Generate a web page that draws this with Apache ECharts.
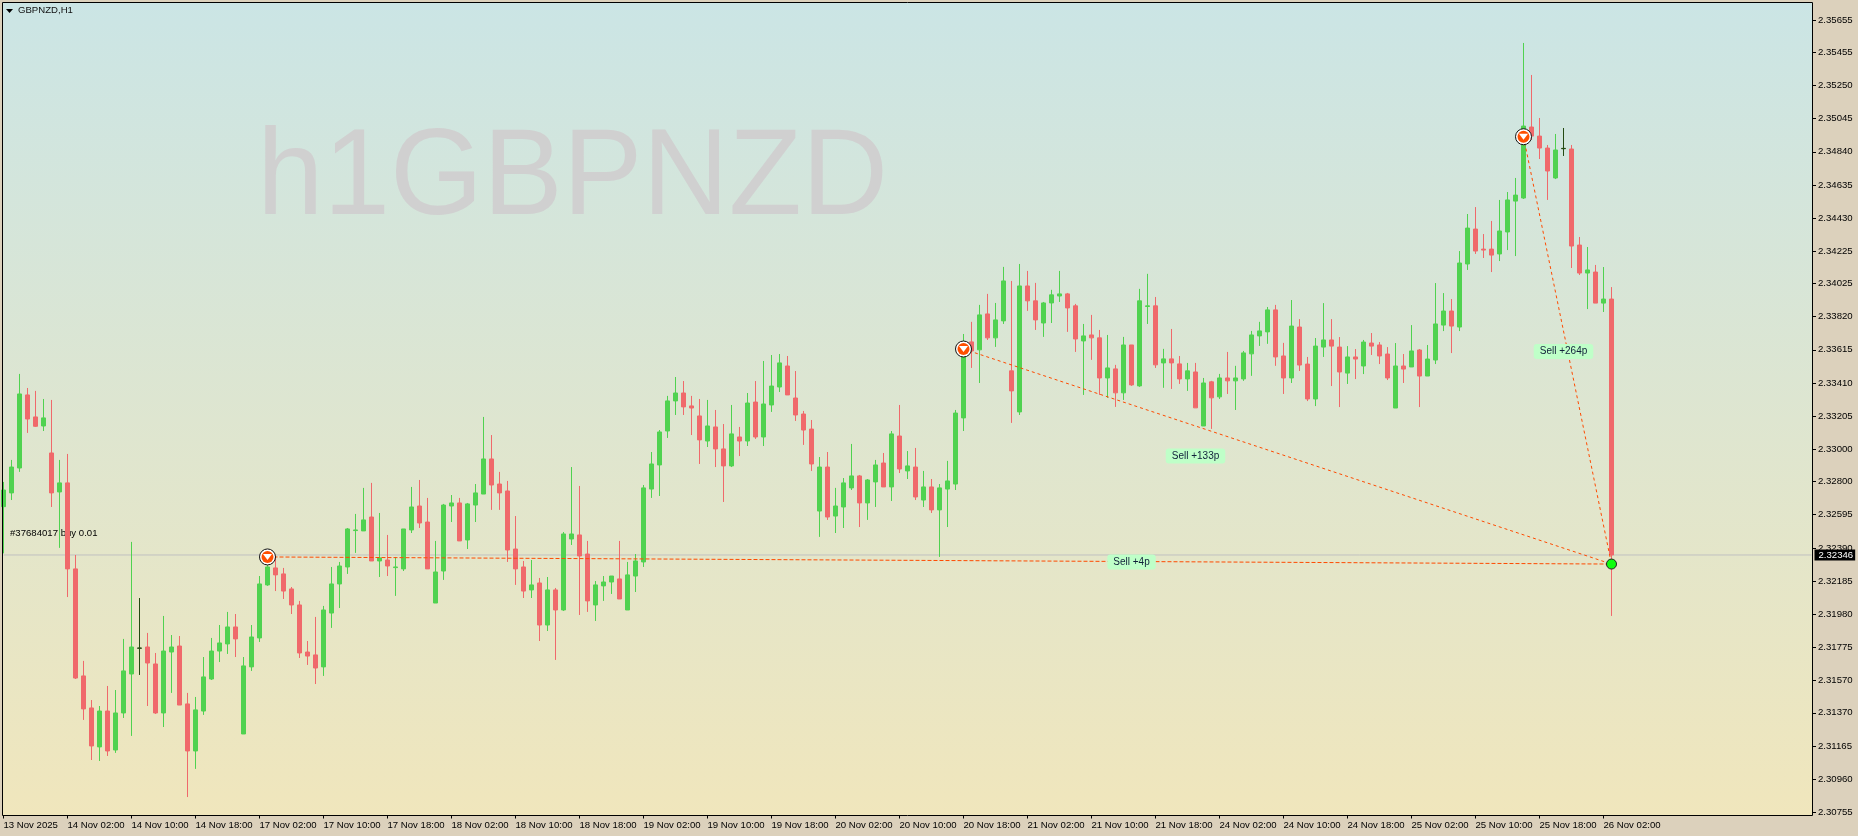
<!DOCTYPE html>
<html>
<head>
<meta charset="utf-8">
<title>GBPNZD,H1</title>
<style>
  html, body { margin: 0; padding: 0; background: #dcd1bc; }
  #chart { width: 1858px; height: 836px; }
</style>
<script src="https://cdn.jsdelivr.net/npm/echarts@6/dist/echarts.min.js"></script>
</head>
<body>
<div id="chart"></div>
<script>
// Prices are kept in points (1 point = 0.00001)
const opens = [
  232645,232730,232884,233336,233200,233144,232977,232736,232792,232260,
  231598,231400,231159,231381,231140,231369,231610,231769,231777,231672,
  231369,231746,231783,231425,231134,231381,231579,231752,231796,231901,
  231239,231654,231833,232161,232266,232229,232136,232037,231746,231728,
  231654,231987,232167,232272,232497,232495,232581,232309,232315,232268,
  232260,232501,232649,232550,232049,232247,232649,232668,232439,232655,
  232723,232940,232785,232742,232383,232272,232130,232173,231913,232130,
  232006,232445,232470,232352,232037,232155,232179,232198,232006,232216,
  232303,232754,232903,233113,233299,233348,233268,233206,233051,233138,
  233002,232897,233076,233051,233292,233076,233274,233385,233515,233317,
  233218,233125,232618,232890,232587,232643,232761,232835,232668,232798,
  232915,232767,233082,232866,232890,232686,232767,232625,232754,232785,
  233194,233664,233615,233837,233689,233794,233485,233231,234010,233918,
  233781,233905,233948,233961,233887,233670,233707,233689,233441,233497,
  233349,233645,233392,233883,233887,233534,233559,233528,233435,233478,
  233144,233417,233324,233441,233423,233435,233590,233701,233726,233862,
  233577,233441,233756,233527,233311,233632,233676,233632,233471,233571,
  233515,233657,233645,233589,233255,233515,233509,233614,233453,233552,
  233768,233855,233756,234146,234362,234238,234238,234208,234344,234535,
  234554,234993,234937,234863,234678,234859,234857,234263,234090,234096,
  233904,233929
];
const closes = [
  232748,232890,233342,233187,233142,233194,232730,232792,232260,231585,
  231394,231165,231381,231134,231369,231629,231777,231771,231678,231369,
  231752,231777,231418,231134,231388,231592,231752,231802,231901,231827,
  231660,231839,232167,232272,232223,232123,232037,231740,231721,231647,
  232006,232167,232278,232507,232501,232563,232309,232328,232278,232272,
  232507,232643,232544,232260,232241,232655,232668,232433,232662,232730,
  232940,232779,232730,232377,232260,232123,232161,231913,232130,232006,
  232476,232476,232340,232062,232161,232179,232216,232074,232223,232309,
  232761,232909,233107,233299,233348,233262,233255,233058,233144,233002,
  232897,233095,233051,233286,233076,233280,233391,233534,233336,233212,
  233119,232909,232890,232581,232649,232792,232835,232668,232810,232903,
  232767,233095,232878,232897,232705,232767,232625,232761,232804,233224,
  233645,233608,233831,233689,233800,234041,233361,234010,233918,233800,
  233905,233955,233961,233874,233682,233701,233689,233441,233503,233349,
  233645,233398,233918,233887,233522,233559,233534,233435,233485,233256,
  233410,233318,233441,233423,233441,233596,233707,233732,233862,233571,
  233441,233762,233521,233311,233638,233676,233638,233478,233571,233558,
  233663,233638,233577,233441,233515,233496,233608,233453,233558,233775,
  233855,233762,234152,234368,234226,234232,234201,234350,234542,234572,
  234999,234937,234863,234721,234851,234861,234257,234090,234109,233904,
  233929,232346
];
const highs = [
  232798,232934,233466,233379,233361,233311,233305,232934,232971,232346,
  231691,231449,231412,231536,231511,231827,232427,232080,231864,231740,
  231969,231851,231845,231493,231468,231715,231833,231913,231994,231981,
  231715,231913,232216,232315,232340,232266,232148,232062,231814,231963,
  232031,232272,232303,232513,232600,232761,232792,232606,232470,232334,
  232507,232767,232810,232699,232433,232662,232717,232699,232668,232785,
  233200,233088,232860,232804,232587,232309,232315,232204,232210,232142,
  232488,232890,232773,232433,232185,232216,232216,232433,232303,232352,
  232779,232983,233119,233330,233447,233422,233330,233311,233305,233243,
  233156,233274,233138,233348,233422,233546,233583,233589,233577,233484,
  233237,233181,232952,232983,232761,232822,233033,232841,232816,232934,
  232977,233113,233274,232989,233008,232866,232816,232785,232928,233243,
  233713,233788,233893,233961,233905,234128,234041,234146,234103,234029,
  233911,233986,234103,233967,233899,233775,233831,233738,233707,233522,
  233695,233645,233992,234085,233942,233621,233744,233577,233534,233534,
  233441,233423,233466,233602,233516,233608,233732,233788,233880,233893,
  233658,233923,233805,233571,233688,233904,233805,233694,233638,233620,
  233676,233719,233663,233632,233657,233589,233768,233620,233645,234028,
  233966,233929,234226,234455,234498,234331,234412,234542,234591,234678,
  235513,235315,235049,234882,234950,234987,234882,234313,234251,234140,
  234127,234003
];
const lows = [
  232356,232686,232860,233101,233138,233113,232643,232390,232086,231579,
  231326,231078,231072,231103,231122,231338,231227,231604,231412,231363,
  231282,231493,231418,230849,231023,231357,231573,231684,231734,231715,
  231239,231629,231808,232155,232123,232074,231981,231709,231666,231548,
  231598,231895,232018,232229,232359,232495,232309,232210,232216,232093,
  232247,232482,232513,232260,232049,232192,232550,232433,232383,232550,
  232723,232625,232625,232303,232161,232080,232080,231814,231876,231697,
  232000,232408,231975,231994,231938,232062,232105,232074,232006,232117,
  232272,232699,232711,233070,233212,233212,233088,232909,233014,232890,
  232674,232890,232958,233020,233064,233020,233231,233354,233336,233175,
  233027,232866,232458,232563,232482,232513,232748,232519,232563,232643,
  232767,232680,232853,232816,232686,232643,232606,232334,232519,232748,
  233113,233503,233410,233676,233633,233775,233163,233212,233856,233738,
  233695,233781,233911,233726,233602,233336,233553,233336,233318,233262,
  233305,233392,233386,233775,233503,233380,233373,233404,233361,233256,
  233144,233126,233311,233342,233243,233423,233454,233639,233652,233516,
  233342,233410,233484,233298,233267,233571,233391,233261,233404,233434,
  233465,233583,233527,233428,233255,233410,233509,233261,233453,233527,
  233731,233595,233731,234109,234208,234183,234096,234164,234232,234195,
  234548,234913,234795,234542,234671,234814,234121,234078,233867,233904,
  233849,231969
];
// Bars drawn in the dark doji colour
const darkBars = [17, 195];

const timeLabels = [
  "13 Nov 2025","14 Nov 02:00","14 Nov 10:00","14 Nov 18:00","17 Nov 02:00","17 Nov 10:00",
  "17 Nov 18:00","18 Nov 02:00","18 Nov 10:00","18 Nov 18:00","19 Nov 02:00","19 Nov 10:00",
  "19 Nov 18:00","20 Nov 02:00","20 Nov 10:00","20 Nov 18:00","21 Nov 02:00","21 Nov 10:00",
  "21 Nov 18:00","24 Nov 02:00","24 Nov 10:00","24 Nov 18:00","25 Nov 02:00","25 Nov 10:00",
  "25 Nov 18:00","26 Nov 02:00"
];
const priceTicks = [
  2.35655,2.35455,2.35250,2.35045,2.34840,2.34635,2.34430,2.34225,2.34025,2.33820,2.33615,2.33410,
  2.33205,2.33000,2.32800,2.32595,2.32390,2.32185,2.31980,2.31775,2.31570,2.31370,2.31165,2.30960,2.30755
];
const lastPrice = 2.32346;

// Closed sells: [bar index, price], all closed at the green dot
const sellEntries = [[33, 2.32334], [120, 2.33620], [190, 2.34933]];
const closePoint = [201, 2.32290];
const tradeLabels = [
  { text: "Sell +4p", bar: 141, price: 2.32303 },
  { text: "Sell +133p", bar: 149, price: 2.32958 },
  { text: "Sell +264p", bar: 195, price: 2.33605 }
];
const orderLabel = { text: "#37684017 buy 0.01", bar: 1, price: 2.32477 };

const UI_FONT = "'Liberation Sans', Arial, sans-serif";
const GREEN = "#50d250";
const RED = "#f0696b";
const DARK = "#244a12";
const TOTAL_SLOTS = 227; // empty space right of the last bar

const categories = [];
for (let i = 0; i < TOTAL_SLOTS; i++) {
  categories.push(i % 8 === 0 && timeLabels[i / 8] ? timeLabels[i / 8] : "");
}

const candles = opens.map((o, i) => {
  const item = { value: [o / 1e5, closes[i] / 1e5, lows[i] / 1e5, highs[i] / 1e5] };
  if (darkBars.includes(i)) {
    item.itemStyle = { color: DARK, color0: DARK, borderColor: DARK, borderColor0: DARK };
  }
  return item;
});

const isLabelledTick = (index) => index % 8 === 0 && index <= 200;

const chart = echarts.init(document.getElementById("chart"), null, { renderer: "canvas" });

chart.setOption({
  animation: false,
  backgroundColor: "#dcd1bc",
  textStyle: { fontFamily: UI_FONT },
  // left 3.5 puts the bar centres on half pixels so wicks stay 1px and centred
  grid: { left: 3.5, top: 2, width: 1808, height: 813.5 },
  xAxis: {
    type: "category",
    data: categories,
    boundaryGap: false,
    axisLine: { show: false },
    axisTick: { show: true, length: 3, interval: isLabelledTick, alignWithLabel: true, lineStyle: { color: "#000" } },
    axisLabel: {
      show: true,
      interval: isLabelledTick,
      align: "left",
      margin: 5,
      color: "#000",
      fontSize: 9.6,
      fontFamily: UI_FONT,
      showMinLabel: true,
      hideOverlap: false
    },
    splitLine: { show: false }
  },
  yAxis: {
    type: "value",
    position: "right",
    offset: 1.5,
    min: 2.307348,
    max: 2.357663,
    scale: true,
    axisLine: { show: false },
    axisTick: { show: true, length: 3, customValues: priceTicks, lineStyle: { color: "#000" } },
    axisLabel: {
      show: true,
      customValues: priceTicks,
      margin: 5,
      color: "#000",
      fontSize: 9.6,
      fontFamily: UI_FONT,
      formatter: (v) => v.toFixed(5)
    },
    splitLine: { show: false }
  },
  series: [
    {
      // the order text sits behind the candles
      type: "scatter",
      z: 1,
      silent: true,
      symbolSize: 1,
      itemStyle: { color: "rgba(0,0,0,0)", opacity: 1 },
      data: [[orderLabel.bar, orderLabel.price]],
      label: {
        show: true,
        position: "right",
        distance: -2,
        formatter: orderLabel.text,
        color: "#000",
        fontSize: 9.6,
        fontFamily: UI_FONT
      }
    },
    {
      // last price line with its black tag on the price scale
      type: "line",
      z: 1,
      silent: true,
      showSymbol: false,
      clip: false,
      data: [[0, lastPrice], [TOTAL_SLOTS - 1, lastPrice]],
      lineStyle: { color: "#c0c0c0", width: 1 },
      endLabel: {
        show: true,
        formatter: () => lastPrice.toFixed(5),
        color: "#fff",
        backgroundColor: "#000",
        padding: [1, 2, 0, 4],
        distance: 3,
        fontSize: 9.6,
        fontFamily: UI_FONT
      }
    },
    {
      // barWidth 4 plus the 1px border gives the 5px bodies of the reference
      type: "candlestick",
      z: 2,
      barWidth: 4,
      silent: true,
      itemStyle: { color: GREEN, color0: RED, borderColor: GREEN, borderColor0: RED, borderWidth: 1 },
      data: candles
    },
    // dotted lines from each sell to its close
    ...sellEntries.map((entry, i) => ({
      type: "line",
      z: 3,
      silent: true,
      showSymbol: false,
      data: [entry, closePoint],
      lineStyle: { color: "#ff4a00", width: 1, type: i === 0 ? [4, 2] : [3, 3] }
    })),
    {
      type: "scatter",
      z: 4,
      silent: true,
      symbol: "circle",
      symbolSize: 16,
      data: sellEntries,
      itemStyle: { color: "#fff", borderColor: "#111", borderWidth: 1, opacity: 1 }
    },
    {
      type: "scatter",
      z: 5,
      silent: true,
      symbol: "circle",
      symbolSize: 12,
      data: sellEntries,
      itemStyle: { color: "#ff4f00", opacity: 1 }
    },
    {
      type: "scatter",
      z: 6,
      silent: true,
      symbol: "triangle",
      symbolRotate: 180,
      symbolSize: [9, 6],
      data: sellEntries,
      itemStyle: { color: "#fff", opacity: 1 }
    },
    {
      type: "scatter",
      z: 4,
      silent: true,
      symbol: "circle",
      symbolSize: 10,
      data: [closePoint],
      itemStyle: { color: "#0eff0e", borderColor: "#222", borderWidth: 1, opacity: 1 }
    },
    {
      type: "scatter",
      z: 7,
      silent: true,
      symbolSize: 1,
      itemStyle: { color: "rgba(0,0,0,0)", opacity: 1 },
      data: tradeLabels.map((t) => ({ value: [t.bar, t.price], name: t.text })),
      label: {
        show: true,
        position: "inside",
        formatter: "{b}",
        color: "#10203a",
        fontSize: 10,
        fontFamily: UI_FONT,
        backgroundColor: "#bfffc8",
        borderRadius: 3,
        padding: [3, 6, 2, 6]
      }
    }
  ],
  graphic: [
    {
      type: "rect",
      z: -2,
      silent: true,
      shape: { x: 2, y: 2, width: 1811, height: 814 },
      style: {
        fill: new echarts.graphic.LinearGradient(0, 0, 0, 1, [
          { offset: 0, color: "#cbe5e5" },
          { offset: 1, color: "#f0e6bc" }
        ])
      }
    },
    {
      type: "text",
      z: -1,
      silent: true,
      x: 257,
      y: 119,
      scaleX: 0.972,
      style: {
        text: "h1GBPNZD",
        fill: "#d0d0d0",
        font: "123px 'Liberation Sans', Arial, sans-serif"
      }
    },
    {
      type: "rect",
      z: 8,
      silent: true,
      shape: { x: 2.5, y: 2.5, width: 1810, height: 813 },
      style: { fill: "none", stroke: "#000", lineWidth: 1 }
    },
    {
      type: "polygon",
      z: 8,
      silent: true,
      shape: { points: [[6, 9], [13, 9], [9.5, 13]] },
      style: { fill: "#000" }
    },
    {
      type: "text",
      z: 8,
      silent: true,
      x: 18,
      y: 5,
      style: { text: "GBPNZD,H1", fill: "#111", font: "9.6px 'Liberation Sans', Arial, sans-serif" }
    }
  ]
});
</script>
</body>
</html>
